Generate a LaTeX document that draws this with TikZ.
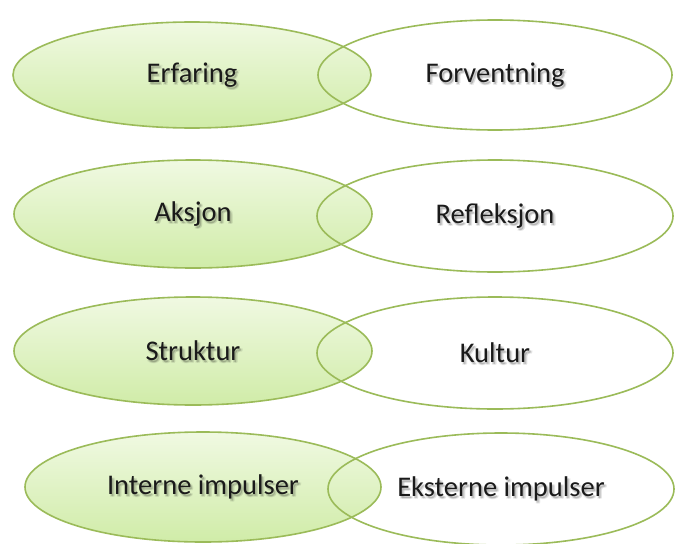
\documentclass[tikz,border=0pt]{standalone}
\usepackage{fontspec}
\setmainfont{Carlito}
\usetikzlibrary{shapes.geometric,calc}

\definecolor{rim}{HTML}{9BBB59}
\definecolor{fillhi}{HTML}{F0F9E2}
\definecolor{filllo}{HTML}{D0ECA8}
\definecolor{ink}{HTML}{1A1A1A}

\tikzset{
  oval/.style={ellipse, line width=1.6pt, draw=rim, inner sep=0pt},
  greenoval/.style={oval, top color=fillhi, bottom color=filllo, shading angle=0},
  plainoval/.style={oval, fill=none},
  lbl/.style={font=\fontsize{28.5}{32}\selectfont, text=ink, inner sep=0pt},
  lblshade/.style={lbl, text=black}
}

% text with a soft drop shadow below and to the right
\newcommand\shadedlabel[3]{%
  \foreach \dx/\dy/\op in {1.5/2.0/0.14, 2.6/3.0/0.08, 0.8/3.2/0.06, 3.2/1.6/0.06}
    \node[lblshade, text opacity=\op] at ($(#2)+(\dx,\dy)$) {#3};
  \node[lbl] (#1) at (#2) {#3};%
}

\begin{document}
\begin{tikzpicture}[x=1pt,y=-1pt]
\useasboundingbox (0,0) rectangle (676,543);
\fill[white] (0,0) rectangle (676,543);

% row centres: left oval, right oval
\coordinate (l1) at (192,75);  \coordinate (r1) at (495,75);
\coordinate (l2) at (193,214); \coordinate (r2) at (495,216);
\coordinate (l3) at (193,351); \coordinate (r3) at (495,353);
\coordinate (l4) at (203,487); \coordinate (r4) at (501,489);

% left ovals, shaded green
\node[greenoval, minimum width=358pt, minimum height=106pt] (A1) at (l1) {};
\node[greenoval, minimum width=358pt, minimum height=108pt] (A2) at (l2) {};
\node[greenoval, minimum width=358pt, minimum height=108pt] (A3) at (l3) {};
\node[greenoval, minimum width=356pt, minimum height=110pt] (A4) at (l4) {};

% right ovals, outline only
\node[plainoval, minimum width=354pt, minimum height=110pt] (B1) at (r1) {};
\node[plainoval, minimum width=356pt, minimum height=112pt] (B2) at (r2) {};
\node[plainoval, minimum width=356pt, minimum height=112pt] (B3) at (r3) {};
\node[plainoval, minimum width=346pt, minimum height=112pt] (B4) at (r4) {};

% labels
\shadedlabel{tA1}{A1.center}{Erfaring}
\shadedlabel{tB1}{B1.center}{Forventning}
\shadedlabel{tA2}{A2.center}{Aksjon}
\shadedlabel{tB2}{B2.center}{Refleksjon}
\shadedlabel{tA3}{A3.center}{Struktur}
\shadedlabel{tB3}{B3.center}{Kultur}
\shadedlabel{tA4}{A4.center}{Interne impulser}
\shadedlabel{tB4}{B4.center}{Eksterne impulser}
\end{tikzpicture}
\end{document}
